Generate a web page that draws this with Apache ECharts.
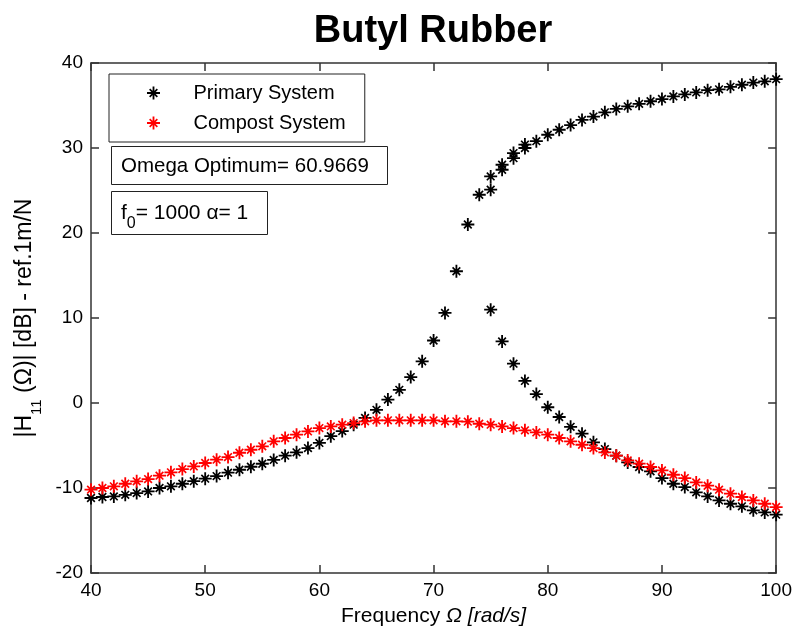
<!DOCTYPE html>
<html><head><meta charset="utf-8">
<script src="https://cdn.jsdelivr.net/npm/echarts@6/dist/echarts.min.js"></script>
<style>html,body{margin:0;padding:0;background:#fff}#c{width:795px;height:632px}</style>
</head><body><div id="c"></div>
<script>
// ---- data ----
const xTicks = [40, 50, 60, 70, 80, 90, 100];
const yTicks = [-20, -10, 0, 10, 20, 30, 40];

// Primary system: rising branch
const primaryRiseFreq = [40,41,42,43,44,45,46,47,48,49,50,51,52,53,54,55,56,57,58,59,60,61,62,63,64,65,66,67,68,69,70,71,72,73];
const primaryRiseDb   = [-11.18,-11.06,-10.99,-10.8,-10.6,-10.4,-10.0,-9.8,-9.5,-9.2,-8.9,-8.6,-8.2,-7.85,-7.5,-7.15,-6.7,-6.2,-5.8,-5.3,-4.7,-3.9,-3.3,-2.55,-1.75,-0.8,0.4,1.55,3.05,4.9,7.35,10.6,15.5,21.0];
// Primary system: upper branch
const primaryUpperFreq = [74,75,75,76,76,77,77,78,78,79,80,81,82,83,84,85,86,87,88,89,90,91,92,93,94,95,96,97,98,99,100];
const primaryUpperDb   = [24.5,25.1,26.66,27.44,28.03,28.8,29.4,30.0,30.4,30.8,31.56,32.15,32.7,33.3,33.7,34.2,34.6,34.9,35.2,35.5,35.76,36.07,36.3,36.54,36.8,36.9,37.2,37.44,37.7,37.84,38.1];
// Primary system: falling branch
const primaryFallFreq = [75,76,77,78,79,80,81,82,83,84,85,86,87,88,89,90,91,92,93,94,95,96,97,98,99,100];
const primaryFallDb   = [10.98,7.25,4.63,2.6,1.05,-0.5,-1.65,-2.8,-3.61,-4.63,-5.42,-6.2,-6.99,-7.53,-8.04,-8.83,-9.5,-9.89,-10.51,-10.99,-11.46,-11.85,-12.16,-12.63,-12.87,-13.14];

// Compost system
const compostFreq = [40,41,42,43,44,45,46,47,48,49,50,51,52,53,54,55,56,57,58,59,60,61,62,63,64,65,66,67,68,69,70,71,72,73,74,75,76,77,78,79,80,81,82,83,84,85,86,87,88,89,90,91,92,93,94,95,96,97,98,99,100];
const compostDb   = [-10.2,-10.0,-9.8,-9.5,-9.22,-8.95,-8.55,-8.16,-7.77,-7.46,-7.06,-6.67,-6.36,-5.85,-5.5,-5.1,-4.51,-4.12,-3.73,-3.34,-2.95,-2.75,-2.55,-2.36,-2.16,-2.04,-2.04,-2.04,-2.04,-2.04,-2.04,-2.16,-2.16,-2.2,-2.44,-2.55,-2.75,-2.95,-3.22,-3.46,-3.73,-4.12,-4.51,-4.91,-5.3,-5.81,-6.2,-6.75,-7.14,-7.53,-7.93,-8.44,-8.83,-9.34,-9.73,-10.2,-10.67,-11.06,-11.46,-11.85,-12.24];

const seriesNames = ['Primary System', 'Compost System'];
const omegaText = 'Omega Optimum= 60.9669';
// ---------------------------------------

function pairs(xs, ys) { return xs.map((x, i) => [x, ys[i]]); }
const primaryData = pairs(primaryRiseFreq, primaryRiseDb)
  .concat(pairs(primaryUpperFreq, primaryUpperDb))
  .concat(pairs(primaryFallFreq, primaryFallDb));
const compostData = pairs(compostFreq, compostDb);

const STAR = 'path://M8.6 0L11.4 0L11.4 20L8.6 20Z M0 8.6L20 8.6L20 11.4L0 11.4Z M3.2 5.0L5.0 3.2L16.8 15.0L15.0 16.8Z M15.0 3.2L16.8 5.0L5.0 16.8L3.2 15.0Z';
const FONT = "'Liberation Sans', Arial, sans-serif";
const AX = '#333';

const chart = echarts.init(document.getElementById('c'), null, {renderer: 'canvas'});
const baseX = {type: 'value', min: xTicks[0], max: xTicks[xTicks.length - 1], interval: 10};
const baseY = {type: 'value', min: yTicks[0], max: yTicks[yTicks.length - 1], interval: 10};
chart.setOption({
  animation: false,
  backgroundColor: '#fff',
  title: {
    text: 'Butyl Rubber', left: 428, top: 8, textAlign: 'center',
    textStyle: {fontFamily: FONT, fontSize: 38, fontWeight: 'bold', color: '#000'}
  },
  grid: {left: 91, right: 18, top: 63, bottom: 59, containLabel: false},
  legend: {
    orient: 'vertical', left: 109, top: 74,
    padding: [9, 19, 9, 38], itemWidth: 70, itemHeight: 13, itemGap: 10,
    backgroundColor: '#fff', borderColor: '#222', borderWidth: 1, borderRadius: 0,
    textStyle: {fontFamily: FONT, fontSize: 20, color: '#000'},
    data: seriesNames.map(n => ({name: n, icon: STAR}))
  },
  xAxis: [
    Object.assign({}, baseX, {
      position: 'bottom',
      axisLine: {show: true, onZero: false, lineStyle: {color: AX, width: 1.5}},
      axisTick: {show: true, inside: true, length: 8, lineStyle: {color: AX, width: 1.5}},
      axisLabel: {show: true, margin: 8, color: '#000', fontFamily: FONT, fontSize: 19},
      splitLine: {show: false},
      name: '{a|Frequency }{b|Ω [rad/s]}', nameLocation: 'middle', nameGap: 33,
      nameTextStyle: {
        color: '#000', fontFamily: FONT, fontSize: 21,
        rich: {a: {fontFamily: FONT, fontSize: 21, color: '#000'},
               b: {fontFamily: FONT, fontSize: 21, fontStyle: 'italic', color: '#000'}}
      }
    }),
    Object.assign({}, baseX, {
      position: 'top',
      axisLine: {show: true, onZero: false, lineStyle: {color: AX, width: 1.5}},
      axisTick: {show: true, inside: true, length: 8, lineStyle: {color: AX, width: 1.5}},
      axisLabel: {show: false}, splitLine: {show: false}
    })
  ],
  yAxis: [
    Object.assign({}, baseY, {
      position: 'left',
      axisLine: {show: true, onZero: false, lineStyle: {color: AX, width: 1.5}},
      axisTick: {show: true, inside: true, length: 8, lineStyle: {color: AX, width: 1.5}},
      axisLabel: {show: true, margin: 8, color: '#000', fontFamily: FONT, fontSize: 19},
      splitLine: {show: false},
      name: '{a||H}{s|11}{a| (Ω)| [dB] - ref.1m/N}', nameLocation: 'middle', nameRotate: 90, nameGap: 47,
      nameTextStyle: {
        color: '#000', fontFamily: FONT, fontSize: 23,
        rich: {a: {fontFamily: FONT, fontSize: 23, color: '#000'},
               s: {fontFamily: FONT, fontSize: 15, color: '#000', padding: [24, 0, 0, 0]}}
      }
    }),
    Object.assign({}, baseY, {
      position: 'right',
      axisLine: {show: true, onZero: false, lineStyle: {color: AX, width: 1.5}},
      axisTick: {show: true, inside: true, length: 8, lineStyle: {color: AX, width: 1.5}},
      axisLabel: {show: false}, splitLine: {show: false}
    })
  ],
  series: [
    {
      name: seriesNames[0], type: 'scatter', xAxisIndex: 0, yAxisIndex: 0,
      symbol: STAR, symbolSize: 13, symbolKeepAspect: true,
      itemStyle: {color: '#000', opacity: 1},
      emphasis: {disabled: true}, data: primaryData, z: 2
    },
    {
      name: seriesNames[1], type: 'scatter', xAxisIndex: 0, yAxisIndex: 0,
      symbol: STAR, symbolSize: 13, symbolKeepAspect: true,
      itemStyle: {color: '#ff0000', opacity: 1},
      emphasis: {disabled: true}, data: compostData, z: 3
    }
  ],
  graphic: [
    {
      type: 'group', left: 111, top: 146, z: 10,
      children: [
        {type: 'rect', shape: {x: 0.5, y: 0.5, width: 276, height: 38}, style: {fill: '#fff', stroke: '#222', lineWidth: 1}},
        {type: 'text', x: 10, y: 20, style: {text: omegaText, fontFamily: FONT, fontSize: 20.5, fill: '#000', verticalAlign: 'middle', align: 'left'}}
      ]
    },
    {
      type: 'group', left: 111, top: 191, z: 10,
      children: [
        {type: 'rect', shape: {x: 0.5, y: 0.5, width: 156, height: 43}, style: {fill: '#fff', stroke: '#222', lineWidth: 1}},
        {type: 'text', x: 10, y: 22, style: {
          text: '{a|f}{s|0}{a|= 1000 α= 1}', verticalAlign: 'middle', align: 'left',
          rich: {a: {fontFamily: FONT, fontSize: 21, fill: '#000'},
                 s: {fontFamily: FONT, fontSize: 16, fill: '#000', padding: [22, 0, 0, 0]}}
        }}
      ]
    }
  ]
});
</script></body></html>
